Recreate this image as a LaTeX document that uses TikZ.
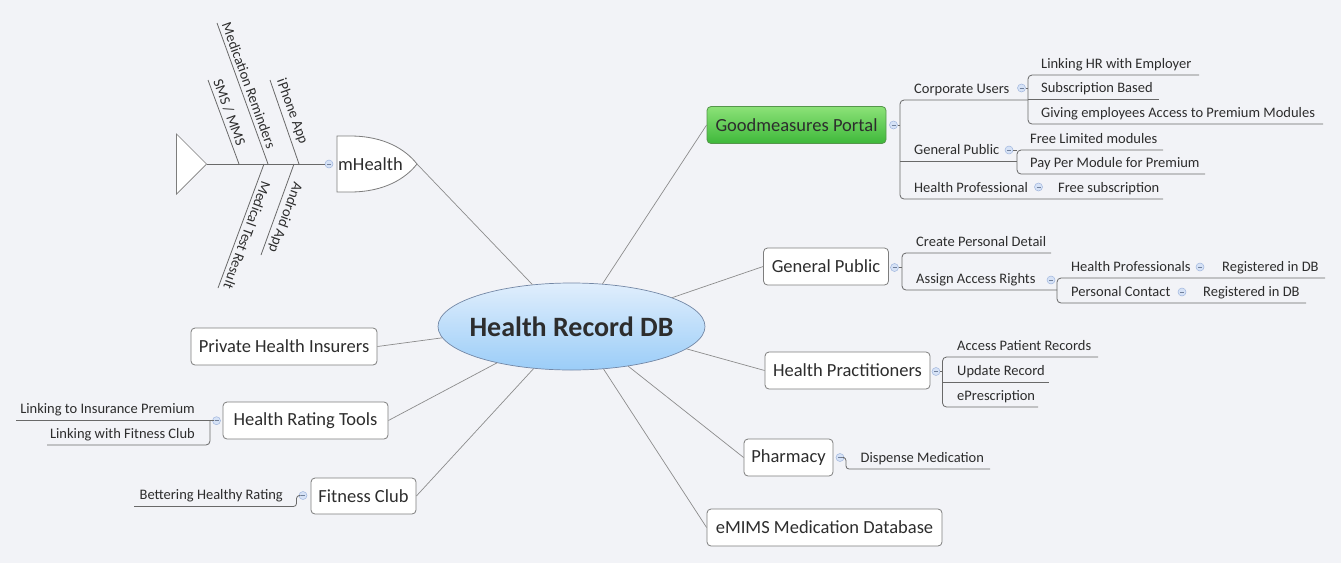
\documentclass[tikz,border=0pt]{standalone}
\usepackage{fontspec}
\setmainfont{Carlito}
\usetikzlibrary{shapes.geometric,calc}
\definecolor{bgc}{RGB}{242,243,247}
\definecolor{txtc}{RGB}{45,45,45}
\definecolor{boxc}{RGB}{125,125,125}
\definecolor{linec}{RGB}{140,140,140}
\definecolor{subc}{RGB}{105,105,105}
\definecolor{colfill}{RGB}{214,226,246}
\definecolor{coldraw}{RGB}{160,182,222}
\definecolor{greentop}{RGB}{140,226,120}
\definecolor{greenbot}{RGB}{62,184,58}
\definecolor{greendraw}{RGB}{85,150,75}
\definecolor{bluetop}{RGB}{224,238,252}
\definecolor{bluebot}{RGB}{155,205,248}
\definecolor{bluedraw}{RGB}{115,135,165}
\tikzset{
 topic/.style={draw=boxc, fill=white, rounded corners=4pt, line width=0.8pt, font=\fontsize{18.5}{22}\selectfont, text=txtc, minimum height=37pt, inner sep=0pt},
 subtext/.style={font=\fontsize{14.5}{17}\selectfont, text=txtc, inner sep=0pt},
 conn/.style={draw=linec, line width=0.7pt},
 subline/.style={draw=subc, line width=0.8pt, rounded corners=4pt},
 collapse/.style={circle, draw=coldraw, fill=colfill, minimum size=8pt, inner sep=0pt, line width=0.5pt,
   path picture={\draw[coldraw!70!black, line width=0.5pt] ([xshift=-2pt]path picture bounding box.center) -- ([xshift=2pt]path picture bounding box.center);}},
 bone/.style={font=\fontsize{14.5}{17}\selectfont, text=txtc, inner xsep=3pt, inner ysep=3.5pt},
}
\newcommand\subtopic[5]{\node[subtext, anchor=base west] (#1) at (#2,#3-7) {#5};\coordinate (#1-e) at (#4,#3);}
\newcommand\subtopicr[5]{\node[subtext, anchor=base east] (#1) at (#2,#3-7) {#5};\coordinate (#1-e) at (#4,#3);}
\begin{document}
\begin{tikzpicture}[x=1pt,y=-1pt]
\fill[bgc] (0,0) rectangle (1341,563);
\useasboundingbox (0,0) rectangle (1341,563);

% central topic
\node[ellipse, draw=bluedraw, top color=bluetop, bottom color=bluebot, minimum width=267pt, minimum height=87pt, inner sep=0pt, line width=0.7pt] (db) at (571.5,326.5) {};
\node[font=\fontsize{28}{32}\selectfont\bfseries, text=txtc, inner sep=0pt] (dbl) at (db.center) {Health Record DB};

% main topics
\node[topic, minimum width=179pt, draw=greendraw, top color=greentop, bottom color=greenbot] (gm) at (796.5,125) {Goodmeasures Portal};
\node[topic, minimum width=125pt] (gp) at (826,266.5) {General Public};
\node[topic, minimum width=165pt] (hpr) at (847.5,370.5) {Health Practitioners};
\node[topic, minimum width=89pt] (ph) at (788.5,457.5) {Pharmacy};
\node[topic, minimum width=235pt] (em) at (824.5,527.5) {eMIMS Medication Database};
\node[topic, minimum width=186pt] (pi) at (284,346.5) {Private Health Insurers};
\node[topic, minimum width=165pt] (hr) at (305.5,420.5) {Health Rating Tools};
\node[topic, minimum width=105pt, minimum height=36pt] (fc) at (363.5,496) {Fitness Club};

% mHealth fish head
\draw[draw=boxc, fill=white, line width=0.8pt] (337,136) -- (350,136) .. controls (385,136) and (406,150) .. (417,164) .. controls (406,178) and (385,192) .. (350,192) -- (337,192) -- cycle;
\coordinate (mhtip) at (417,164);
\node[font=\fontsize{18.5}{22}\selectfont, text=txtc, anchor=west, inner sep=0pt] (mh) at (338,164) {mHealth};

% main connectors
\draw[conn] (db.54) -- (gm.west);
\draw[conn] (db.16) -- (gp.west);
\draw[conn] (db.-11) -- (hpr.west);
\draw[conn] (db.-35) -- (ph.west);
\draw[conn] (db.-53) -- (em.west);
\draw[conn] (db.133) -- (mhtip);
\draw[conn] (db.-175) -- (pi.east);
\draw[conn] (db.-154) -- (hr.east);
\draw[conn] (db.-132) -- (fc.east);

% Goodmeasures children
\node[collapse] (gmc) at (893.5,125) {};
\subtopic{cu}{914}{100}{1028}{Corporate Users}
\subtopic{gpu}{914}{161}{1017}{General Public}
\subtopic{hpf}{914}{199}{1163}{Health Professional}
\draw[subline] (gmc.east) -- (900,125);
\draw[subline] (cu-e) -- (900,100) -- (900,199) -- (hpf-e);
\draw[subline] (900,161) -- (gpu-e);

\node[collapse] (cuc) at (1021.5,88) {};
\subtopic{lhr}{1041}{75}{1199}{Linking HR with Employer}
\subtopic{sb}{1041}{99.5}{1159}{Subscription Based}
\subtopic{ge}{1041}{124}{1323}{Giving employees Access to Premium Modules}
\draw[subline] (cuc.east) -- (1028,88);
\draw[subline] (lhr-e) -- (1028,75) -- (1028,124) -- (ge-e);
\draw[subline] (1028,99.5) -- (sb-e);

\node[collapse] (gpuc) at (1009,150) {};
\subtopic{flm}{1030}{150}{1163}{Free Limited modules}
\subtopic{ppm}{1030}{174}{1205}{Pay Per Module for Premium}
\draw[subline] (gpuc.east) -- (1017,150);
\draw[subline] (flm-e) -- (1017,150) -- (1017,174) -- (ppm-e);

\node[collapse] (hpfc) at (1038.5,187) {};
\subtopic{fs}{1058}{199}{1163}{Free subscription}

% General Public children
\node[collapse] (gpc) at (894.5,267.5) {};
\subtopic{cpd}{916}{253}{1051}{Create Personal Detail}
\subtopic{aar}{916}{290}{1057}{Assign Access Rights}
\draw[subline] (gpc.east) -- (902,267.5);
\draw[subline] (cpd-e) -- (902,253) -- (902,290) -- (aar-e);

\node[collapse] (aarc) at (1051,280) {};
\subtopic{hps}{1071}{278}{1325}{Health Professionals}
\subtopic{pc}{1071}{303}{1306}{Personal Contact}
\draw[subline] (hps-e) -- (1057,278) -- (1057,303) -- (pc-e);
\node[collapse] (hpsc) at (1200,267) {};
\node[subtext, anchor=base west] (rdb1) at (1222,271) {Registered in DB};
\node[collapse] (pcc) at (1182,292) {};
\node[subtext, anchor=base west] (rdb2) at (1203,296) {Registered in DB};

% Health Practitioners children
\node[collapse] (hprc) at (936,371.5) {};
\subtopic{apr}{957}{357}{1098}{Access Patient Records}
\subtopic{ur}{957}{382}{1049}{Update Record}
\subtopic{ep}{957}{407}{1038}{ePrescription}
\draw[subline] (hprc.east) -- (942.5,371.5);
\draw[subline] (apr-e) -- (942.5,357) -- (942.5,407) -- (ep-e);
\draw[subline] (942.5,382) -- (ur-e);

% Pharmacy child
\node[collapse] (phc) at (840,457.5) {};
\subtopic{dm}{860.5}{469}{990}{Dispense Medication}
\draw[subline, rounded corners=3pt] (phc.east) -- (846,457.5) -- (846,469) -- (dm-e);

% Health Rating Tools children
\node[collapse] (hrc) at (216.5,420.7) {};
\subtopicr{lip}{195}{420.7}{16}{Linking to Insurance Premium}
\subtopicr{lfc}{195}{445}{47}{Linking with Fitness Club}
\draw[subline] (hrc.west) -- (210,420.7) -- (lip-e);
\draw[subline] (210,420.7) -- (210,445) -- (lfc-e);

% Fitness Club child
\node[collapse] (fcc) at (303,495.5) {};
\subtopicr{bhr}{283}{506.5}{134}{Bettering Healthy Rating}
\draw[subline, rounded corners=3pt] (fcc.west) -- (296.5,495.5) -- (296.5,506.5) -- (bhr-e);

% mHealth fishbone
\node[collapse] (mhc) at (329,164) {};
\node[draw=boxc, fill=white, line width=0.7pt, isosceles triangle, isosceles triangle apex angle=90, minimum height=30pt, minimum width=60pt, inner sep=0pt, anchor=apex, shape border rotate=0] (tail) at (207,164) {};
\draw[subline] (tail.apex) -- (mhc.west);

\coordinate (b1s) at (239,164); \coordinate (b1t) at (208,80);
\coordinate (b2s) at (268,164); \coordinate (b2t) at (217,23);
\coordinate (b3s) at (299,164); \coordinate (b3t) at (270,80);
\coordinate (b4s) at (294,164); \coordinate (b4t) at (261,255);
\coordinate (b5s) at (264,164); \coordinate (b5t) at (218,288);
\draw[subline] (b1s) -- (b1t);
\draw[subline] (b2s) -- (b2t);
\draw[subline] (b3s) -- (b3t);
\draw[subline] (b4s) -- (b4t);
\draw[subline] (b5s) -- (b5t);
\node[bone, rotate=-70, anchor=south west] (sms) at (b1t) {SMS / MMS};
\node[bone, rotate=-70, anchor=south west] (mr) at (b2t) {Medication Reminders};
\node[bone, rotate=-70, anchor=south west] (ip) at (b3t) {iPhone App};
\node[bone, rotate=-110, anchor=south west] (aa) at ($(b4s)!13pt!(b4t)$) {Android App};
\node[bone, rotate=-110, anchor=south west] (mtr) at ($(b5s)!13pt!(b5t)$) {Medical Test Result};
\end{tikzpicture}
\end{document}
